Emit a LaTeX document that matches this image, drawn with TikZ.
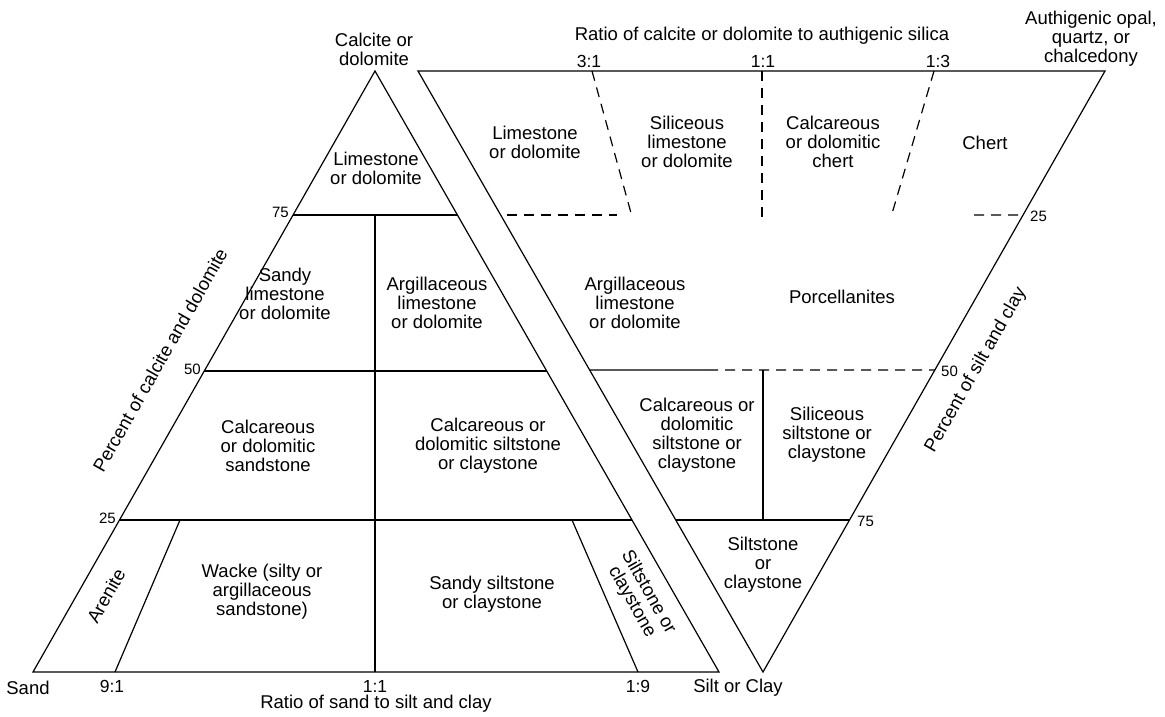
\documentclass[tikz,border=0pt]{standalone}
\usepackage{fontspec}
\setmainfont{Liberation Sans}
\usetikzlibrary{calc}
\begin{document}
\begin{tikzpicture}[x=1pt,y=-1pt,
  edge/.style={line width=1.2pt, line join=miter},
  dline/.style={line width=1.2pt, dash pattern=on 10pt off 7pt},
  lbl/.style={align=center, inner sep=0pt, font=\fontsize{18.5}{19}\selectfont},
  rat/.style={inner sep=0pt, font=\fontsize{17.5}{19}\selectfont},
  num/.style={inner sep=0pt, font=\fontsize{15}{17}\selectfont}]
\useasboundingbox (0,0) rectangle (1165,717);
% left triangle
\coordinate (A) at (375,71);
\coordinate (L) at (33,672);
\coordinate (R) at (719,672);
\draw[edge] (A) -- (L) -- (R) -- cycle;
\coordinate (l75) at ($(L)!0.7604!(A)$);
\coordinate (r75) at ($(R)!0.7604!(A)$);
\coordinate (l50) at ($(L)!0.5008!(A)$);
\coordinate (r50) at ($(R)!0.5008!(A)$);
\coordinate (l25) at ($(L)!0.2529!(A)$);
\coordinate (r25) at ($(R)!0.2529!(A)$);
\draw[edge] (l75) -- (r75);
\draw[edge] (l50) -- (r50);
\draw[edge] (l25) -- (r25);
\coordinate (m75) at (375,215);
\coordinate (mb) at (375,672);
\draw[edge] (m75) -- (mb);
\coordinate (ar1) at (180,520);
\coordinate (ar2) at (115,672);
\draw[edge] (ar1) -- (ar2);
\coordinate (si1) at (572,520);
\coordinate (si2) at (638,672);
\draw[edge] (si1) -- (si2);
% right triangle
\coordinate (P) at (418,71);
\coordinate (Q) at (1105,71);
\coordinate (V) at (763,672);
\draw[edge] (P) -- (Q) -- (V) -- cycle;
\coordinate (pl50) at ($(V)!0.5025!(P)$);
\coordinate (pr50) at ($(V)!0.5025!(Q)$);
\coordinate (pl75) at ($(V)!0.2529!(P)$);
\coordinate (pr75) at ($(V)!0.2529!(Q)$);
\coordinate (pr25) at ($(V)!0.7604!(Q)$);
\coordinate (s50) at (708,370);
\draw[edge] (pl50) -- (s50);
\draw[dline] (s50) -- (pr50);
\draw[edge] (pl75) -- (pr75);
\coordinate (c50) at (763,370);
\coordinate (c75) at (763,520);
\draw[edge] (c50) -- (c75);
% dashed upper lines
\coordinate (d31a) at (592,71);
\coordinate (d31b) at (631,213);
\draw[dline] (d31a) -- (d31b);
\coordinate (d11a) at (762,71);
\coordinate (d11b) at (762,217);
\draw[dline] (d11a) -- (d11b);
\coordinate (d13a) at (934,71);
\coordinate (d13b) at (891,217);
\draw[dline] (d13a) -- (d13b);
\coordinate (h25a) at (507,215);
\coordinate (h25b) at (617,215);
\draw[dline] (h25a) -- (h25b);
\coordinate (h25c) at (974,215);
\draw[dline] (h25c) -- (pr25);
% corner labels
\node[lbl] (tCal) at (374,49) {Calcite or\\dolomite};
\node[lbl] (tAut) at (1091,39) {Authigenic opal,\\quartz, or\\chalcedony};
\node[lbl] (tRat1) at (762,36) {Ratio of calcite or dolomite to authigenic silica};
\node[rat] (n31) at (589,61) {3:1};
\node[rat] (n11t) at (763,61) {1:1};
\node[rat] (n13) at (938,61) {1:3};
\node[lbl] (tSand) at (28,688) {Sand};
\node[lbl] (tSilt) at (738,688) {Silt or Clay};
\node[rat] (n91) at (112,686) {9:1};
\node[rat] (n11b) at (375,686) {1:1};
\node[rat] (n19) at (638,686) {1:9};
\node[lbl] (tRat2) at (376,704) {Ratio of sand to silt and clay};
% percent numbers
\node[num, anchor=east] (p75l) at (289,212) {75};
\node[num, anchor=east] (p50l) at (201,369) {50};
\node[num, anchor=east] (p25l) at (116,518) {25};
\node[num, anchor=west] (p25r) at (1030,216) {25};
\node[num, anchor=west] (p50r) at (941,371) {50};
\node[num, anchor=west] (p75r) at (857,521) {75};
\node[lbl, rotate=60.4] (axL) at (160,360) {Percent of calcite and dolomite};
\node[lbl, rotate=60.4] (axR) at (976,370) {Percent of silt and clay};
% field labels, left triangle
\node[lbl] (f1) at (376,168) {Limestone\\or dolomite};
\node[lbl] (f2) at (285,294) {Sandy\\limestone\\or dolomite};
\node[lbl] (f3) at (437,303) {Argillaceous\\limestone\\or dolomite};
\node[lbl] (f4) at (268,446) {Calcareous\\or dolomitic\\sandstone};
\node[lbl] (f5) at (488,446) {Calcareous or\\dolomitic siltstone\\or claystone};
\node[lbl, rotate=60.4] (f6) at (106,596) {Arenite};
\node[lbl] (f7) at (262,592) {Wacke (silty or\\argillaceous\\sandstone)};
\node[lbl] (f8) at (492,594) {Sandy siltstone\\or claystone};
\node[lbl, rotate=-60.4] (f9) at (640,597) {Siltstone or\\claystone};
% field labels, right triangle
\node[lbl] (g1) at (535,142) {Limestone\\or dolomite};
\node[lbl] (g2) at (687,142) {Siliceous\\limestone\\or dolomite};
\node[lbl] (g3) at (833,142) {Calcareous\\or dolomitic\\chert};
\node[lbl] (g4) at (985,143) {Chert};
\node[lbl] (g5) at (635,303) {Argillaceous\\limestone\\or dolomite};
\node[lbl] (g6) at (842,297) {Porcellanites};
\node[lbl] (g7) at (697,435) {Calcareous or\\dolomitic\\siltstone or\\claystone};
\node[lbl] (g8) at (827,435) {Siliceous\\siltstone or\\claystone};
\node[lbl] (g9) at (763,565) {Siltstone\\or\\claystone};
\end{tikzpicture}
\end{document}
